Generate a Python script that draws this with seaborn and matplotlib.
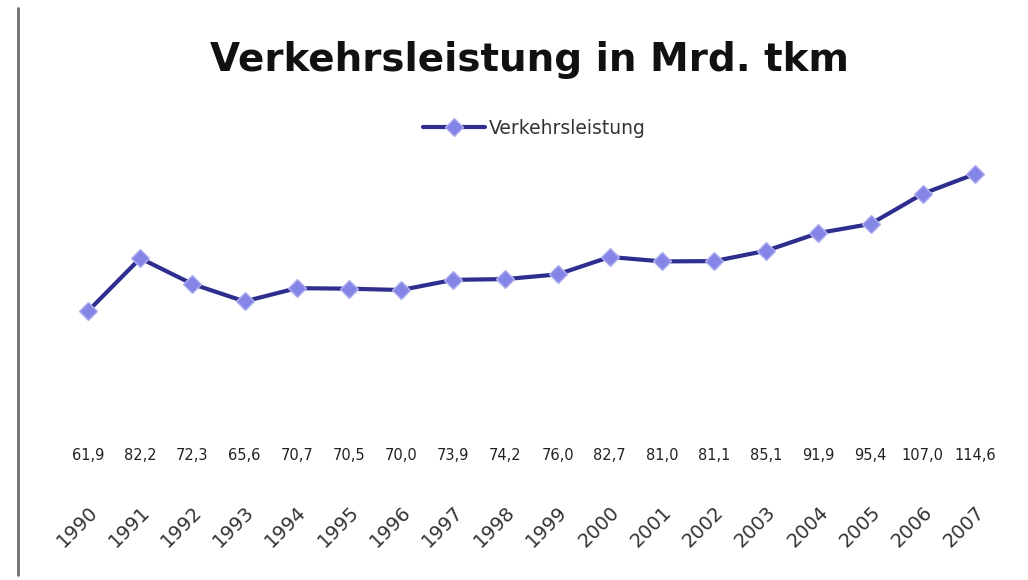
import matplotlib
matplotlib.use("Agg")
import matplotlib.pyplot as plt
import matplotlib.transforms as mtransforms
from matplotlib.lines import Line2D
import seaborn as sns
import pandas as pd

# Daten
jahre = ["1990", "1991", "1992", "1993", "1994", "1995", "1996", "1997", "1998",
         "1999", "2000", "2001", "2002", "2003", "2004", "2005", "2006", "2007"]
leistung = [61.9, 82.2, 72.3, 65.6, 70.7, 70.5, 70.0, 73.9, 74.2,
            76.0, 82.7, 81.0, 81.1, 85.1, 91.9, 95.4, 107.0, 114.6]

df = pd.DataFrame({"Jahr": range(len(jahre)), "Verkehrsleistung": leistung})

sns.set_style("white")
plt.rcParams["font.family"] = ["DejaVu Sans"]

fig = plt.figure(figsize=(10.28, 5.8), dpi=100)
ax = fig.add_axes([62 / 1028, 140 / 580, 939 / 1028, 280 / 580])

sns.lineplot(data=df, x="Jahr", y="Verkehrsleistung", ax=ax,
             color="#2E2E8F", linewidth=3, label="Verkehrsleistung",
             marker="D", markersize=9, markerfacecolor="#8585E8",
             markeredgecolor="#B0B0F0", markeredgewidth=1)

ax.set_xlim(-0.5, len(jahre) - 0.5)
ax.set_ylim(12.3, 120)
ax.set_yticks([])
ax.set_xlabel("")
ax.set_ylabel("")
for s in ax.spines.values():
    s.set_visible(False)

ax.set_xticks(range(len(jahre)))
ax.set_xticklabels(jahre, rotation=45, ha="right", rotation_mode="anchor",
                   fontsize=14, color="#333333")
ax.tick_params(axis="x", length=0, pad=45)

# Datentabelle unter dem Diagramm
trans = mtransforms.blended_transform_factory(ax.transData, fig.transFigure)
for i, v in enumerate(leistung):
    ax.text(i, 1 - 456 / 580, f"{v:.1f}".replace(".", ","), transform=trans,
            ha="center", va="center", fontsize=10.5, color="#222222")

fig.suptitle("Verkehrsleistung in Mrd. tkm", x=0.515, y=1 - 60 / 580,
             va="center", fontsize=28, fontweight="bold", color="#111111")

leg = ax.legend(loc="center", bbox_to_anchor=(534 / 1028, 1 - 128 / 580),
                bbox_transform=fig.transFigure, frameon=False, fontsize=13.5,
                handlelength=3.3, handletextpad=0.2)
for t in leg.get_texts():
    t.set_color("#333333")

fig.add_artist(Line2D([18 / 1028, 18 / 1028], [1 - 575 / 580, 1 - 8 / 580],
                      transform=fig.transFigure, color="#6E6E6E", linewidth=2))

fig.savefig("out.png", dpi=100)
